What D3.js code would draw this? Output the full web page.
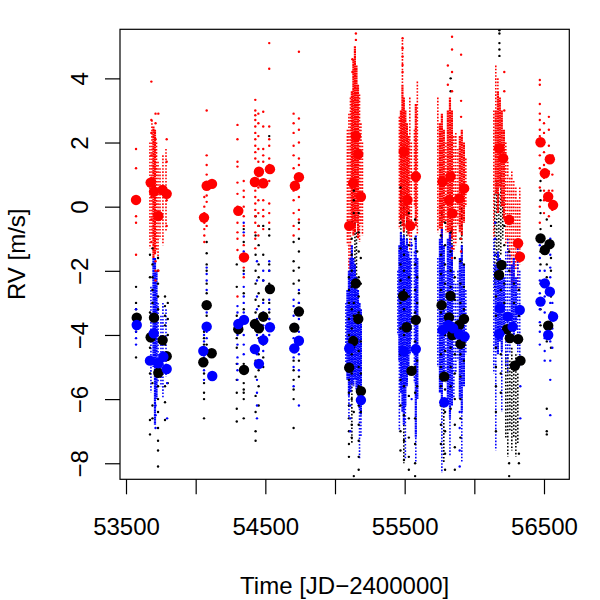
<!DOCTYPE html>
<html><head><meta charset="utf-8">
<script src="https://cdn.jsdelivr.net/npm/d3@7"></script>
<style>body{margin:0;background:#fff}svg{display:block}</style>
</head><body><svg id="c" width="600" height="600"></svg>
<script>
const xTicks = [53500,54000,54500,55000,55500,56000,56500];
const xTickLabels = ["53500","","54500","","55500","","56500"];
const yTicks = [-8,-6,-4,-2,0,2,4];
const yTickLabels = ["\u22128","\u22126","\u22124","\u22122","0","2","4"];
const xTitle = "Time [JD\u22122400000]";
const yTitle = "RV [m/s]";

// large points: [time, rv]
const redBig = [[53572,0.21],[53677,0.75],[53701,0.47],[53732,-0.29],[53763,0.52],[53792,0.40],
[54060,-0.34],[54079,0.65],[54117,0.71],
[54306,-0.13],[54347,-1.58],[54425,0.77],[54454,1.09],[54485,0.73],[54533,1.17],
[54712,0.65],[54741,0.92],
[55102,-0.60],[55131,0.73],[55150,2.20],[55167,1.64],[55186,0.31],
[55494,1.72],[55520,0.21],[55540,-0.60],[55580,0.94],
[55772,0.78],[55819,0.21],[55829,0.94],[55843,-0.21],[55891,0.26],[55927,0.57],
[56178,1.82],[56207,1.51],[56250,-0.41],[56314,-1.14],[56327,-1.56],
[56475,2.01],[56506,1.04],[56530,0.31],[56542,1.48],[56565,0.05]];
const blackBig = [[53577,-3.46],[53677,-4.07],[53701,-3.46],[53732,-5.18],[53763,-4.16],[53792,-4.66],
[54055,-4.85],[54079,-3.07],[54115,-4.57],
[54306,-3.82],[54347,-5.09],[54425,-3.66],[54454,-3.79],[54485,-3.43],[54533,-2.57],
[54708,-3.77],[54741,-3.27],
[55102,-5.02],[55131,-4.19],[55150,-2.39],[55167,-3.50],[55186,-5.75],
[55489,-2.78],[55514,-3.76],[55549,-5.12],[55580,-3.53],
[55765,-3.07],[55784,-5.30],[55818,-3.45],[55829,-2.78],[55842,-4.00],[55891,-3.69],[55901,-4.28],[55926,-3.50],
[56178,-2.13],[56195,-1.82],[56235,-3.82],[56255,-4.10],[56291,-4.96],[56314,-4.13],[56331,-4.80],
[56475,-0.99],[56506,-1.35],[56540,-1.17],[56530,-3.71]];
const blueBig = [[53577,-3.69],[53672,-4.80],[53699,-3.95],[53732,-4.88],[53768,-4.68],[53792,-5.06],
[54055,-4.50],[54079,-3.74],[54119,-5.28],
[54306,-3.66],[54347,-3.53],[54425,-4.44],[54454,-4.90],[54485,-4.16],[54533,-3.76],
[54708,-4.42],[54741,-4.18],
[55102,-4.42],[55186,-6.03],
[55494,-4.50],[55580,-4.44],
[55772,-3.85],[55784,-6.10],[55813,-3.69],[55848,-3.79],[55891,-3.98],[55930,-4.05],
[56178,-3.97],[56183,-3.17],[56240,-3.43],[56275,-3.74],[56326,-3.22],
[56475,-2.96],[56506,-2.39],[56530,-4.00],[56542,-2.65],[56565,-3.43]];

// nightly runs of many measurements at one time: [time, rvTop, rvBottom]
const redDense = [
[53697,2.5,-1.6],[53708,2.4,-1.5],
[55121,3.6,-0.6],[55132,4.6,-0.9],[55143,5.0,-0.8],[55154,4.4,-0.5],[55165,3.8,-1.0],
[55473,3.0,-0.4],[55484,3.8,-0.6],[55494,3.4,-0.8],[55505,3.0,-0.3],[55516,2.6,-0.6],[55527,2.2,-0.9],[55580,3.2,-0.6],
[55753,2.6,-0.7],[55767,2.9,-1.0],[55781,2.4,-0.5],[55810,3.0,-0.8],[55825,3.4,-1.2],[55839,3.0,-1.0],
[55896,2.2,-0.8],[55910,2.4,-0.9],[55925,2.0,-0.5],
[56154,3.0,0.4],[56169,3.6,-0.2],[56183,3.4,0.6],[56197,3.0,0.0],[56212,2.4,-0.4]];
const redLoose = [
[53672,2.0,-1.3],[53686,2.7,-1.0],[53719,2.0,-1.4],[53730,1.4,-1.6],[53744,1.2,-1.0],[53765,1.6,-1.2],[53787,1.8,-0.8],
[55089,2.4,-1.2],[55100,2.9,-2.0],[55111,3.4,-2.2],[55176,3.5,-1.1],[55186,2.6,-0.6],[55197,2.0,-0.9],
[55462,2.8,-0.7],[55537,3.4,-1.4],[55548,2.0,-1.0],[55570,2.4,0.0],[55591,3.9,-0.9],[55484,5.2,3.8],
[55738,3.4,-0.8],[55796,2.0,-0.8],[55853,2.2,-1.4],[55867,2.3,-1.2],[55882,1.8,-0.6],[55939,1.5,0.0],
[56140,3.0,-1.0],[56154,4.4,3.0],[56169,4.0,3.6],[56226,2.0,-1.2],[56240,1.4,-1.8],[56255,0.9,-2.2],
[56269,1.1,-2.6],[56283,0.8,-2.4],[56298,0.6,-2.0],[56312,0.2,-2.6],[56326,0.6,-1.8]];
const blueDense = [
[53697,-1.6,-5.0],[53708,-1.6,-6.8],[53719,-2.0,-6.0],
[55089,-2.6,-5.4],[55100,-2.0,-5.9],[55111,-1.6,-5.8],[55121,-1.2,-5.5],[55132,-1.6,-5.6],[55143,-1.8,-5.4],
[55154,-2.2,-5.7],[55165,-2.6,-5.9],[55176,-3.0,-6.3],[55186,-3.2,-6.5],
[55462,-1.2,-4.8],[55473,-0.8,-5.8],[55484,-1.0,-6.4],[55494,-0.9,-6.8],[55505,-1.2,-6.2],[55516,-1.0,-5.6],
[55527,-1.4,-5.2],[55537,-1.6,-4.6],[55580,-0.9,-7.2],[55591,-1.6,-6.0],
[55753,-1.0,-5.8],[55767,-0.7,-6.2],[55781,-1.2,-5.4],[55810,-1.0,-6.0],[55825,-0.8,-6.6],[55839,-1.2,-6.2],
[55896,-1.6,-6.0],[55910,-1.2,-6.4],[55925,-1.8,-5.6],
[56154,-1.8,-4.4],[56169,-1.4,-4.6],[56183,-1.6,-4.2],[56197,-2.0,-4.5],[56212,-2.2,-4.0],
[56269,-1.8,-3.8],[56283,-1.6,-4.0],[56298,-2.2,-3.6]];
const blueLoose = [
[53679,-2.5,-5.8],[53730,-3.0,-5.5],[53751,-3.4,-5.6],[53765,-3.0,-6.0],[53787,-3.2,-5.3],
[55078,-3.0,-5.0],[55100,-5.9,-6.6],[55176,-6.3,-7.9],[55186,-6.5,-7.2],
[55451,-2.0,-4.0],[55462,-4.8,-7.0],[55505,-6.2,-7.9],[55548,-1.0,-4.2],[55570,-1.4,-5.5],[55580,-7.2,-8.0],
[55738,-1.6,-5.0],[55796,-2.0,-5.5],[55853,-2.0,-6.0],[55867,-2.4,-5.2],[55882,-2.0,-4.8],[55939,-2.6,-4.6],
[55767,-6.2,-8.3],[55825,-6.6,-7.8],[55910,-6.4,-8.0],
[56140,-1.0,-5.2],[56226,-1.4,-5.0],[56240,-1.0,-5.2],[56255,-1.5,-4.6],[56312,-1.2,-4.6],[56326,-2.0,-5.0],
[56154,-4.4,-7.6],[56197,-4.5,-6.4]];
const blackLoose = [
[55143,-0.3,-2.8],[55154,-0.8,-2.4],[55121,-5.4,-7.4],
[55473,0.6,-1.6],[55494,0.2,-1.4],[55516,0.4,-1.0],[55494,-6.8,-8.0],
[55767,0.0,-2.4],[55839,-0.5,-2.2],[55910,0.5,-1.8],[55781,-6.0,-8.0],
[56147,0.4,-2.6],[56161,0.8,-1.8],[56176,0.4,-2.4],[56190,1.0,-1.5],[56204,0.2,-1.0],
[56226,-4.5,-7.2],[56240,-4.6,-7.8],[56255,-4.8,-7.0],[56269,-4.4,-7.6],[56283,-5.0,-7.2],[56298,-4.6,-7.8],[56312,-5.2,-7.4]];

// individual measurements: [time, [rv ...]]
const redSmall = [
[53572,[1.8,1.2,-0.3,-0.5,-1.5]],
[53682,[3.9,2.7,2.3,1.6,0.9,0.3,-0.4,-1.1]],
[53712,[2.9,2.6,2.1,-1.7,-2.0,-2.3]],
[53732,[2.9,-2.0]],
[53792,[2.1,1.4,0.2,-0.6]],
[54062,[0.3,0.0,-0.2,-0.5,-0.7,-0.9,-1.1]],
[54079,[3.0,1.6,1.3,1.0,0.35,0.15,-0.3,-0.6]],
[54300,[2.55,2.1,1.4,1.25,0.75,0.4,0.0,-0.5,-0.8,-1.0,-1.35,-2.8]],
[54345,[0.8,0.5,0.3,0.0,-0.3,-0.6,-0.9,-1.2,-1.9,-2.2]],
[54428,[3.33,3.0,2.85,2.7,2.5,2.3,2.1,1.9,1.7,1.5,1.1,0.5,0.3,0.1,-0.1,-0.3,-0.5,-0.8,-1.0,-1.3]],
[54450,[2.9,2.6,2.2,1.8,1.4,0.95,0.6,0.2,-0.2,-0.6,-0.9]],
[54485,[2.96,2.5,1.8,1.6,1.4,0.2,-0.1,-0.3,-0.7]],
[54528,[5.1,4.3,2.5,2.1,1.9,1.5,1.3,0.8,0.1,-0.2,-0.5]],
[54703,[2.9,2.6,2.3,1.9,1.6,1.2,0.5,0.2,-0.2,-0.6,-0.9]],
[54741,[4.83,2.75,2.4,2.0,1.5,1.3,0.6,0.3,-0.1,-0.4,-0.7]],
[55125,[4.6,4.2]],
[55150,[5.4,5.2]],
[55485,[5.25,4.94,4.68,4.42,4.2]],
[55810,[4.4,3.8]],
[55840,[5.3,4.9,4.2,3.6,-1.3,-1.6]],
[55905,[4.74,3.3,2.8,-1.0,-1.4]],
[56215,[4.2,3.6,3.0]],
[56470,[3.95,3.8,3.2,2.9,2.7,2.4,2.2,1.6,1.2,0.6,0.0,-0.5]],
[56500,[2.6,2.3,2.0,1.7,1.3,0.9,0.5,0.2,-0.2]],
[56535,[2.8,2.4,1.9,1.1,0.5,-0.3]],
[56560,[1.6,1.0,0.5,-0.1]]];
const blackSmall = [
[53572,[-2.5,-3.0,-3.2,-3.9,-4.7]],
[53672,[-1.5,-2.2,-3.3,-4.4,-5.2,-6.65,-7.1]],
[53690,[-1.3,-1.8,-2.2,-2.6,-3.0,-5.5,-6.2,-6.6]],
[53730,[-1.6,-2.0,-2.4,-2.8,-3.2,-5.6,-6.0,-6.4,-6.9,-7.3,-7.6,-8.1]],
[53780,[-2.8,-3.1,-3.4,-3.7,-4.3,-5.0,-5.6,-6.1,-6.65]],
[53800,[-3.0,-3.5,-4.0,-5.0,-5.5]],
[54060,[-3.9,-4.1,-4.3,-5.2,-5.5,-5.8,-6.0,-6.6]],
[54079,[-1.1,-1.45,-1.8,-2.0,-2.4,-2.7,-3.4,-4.3]],
[54295,[-1.8,-2.5,-3.4,-4.1,-4.4,-4.9,-5.4,-5.8,-6.3,-6.7]],
[54345,[-0.7,-1.1,-2.0,-2.7,-3.2,-3.6,-4.9,-5.5,-5.7,-5.8,-6.0,-6.6]],
[54430,[-0.3,-0.9,-1.5,-2.0,-2.4,-2.9,-3.3,-4.4,-4.8,-5.3,-5.9,-6.4,-7.0,-7.3]],
[54452,[-0.6,-1.2,-1.8,-2.2,-2.7,-3.1,-4.1,-4.6,-5.1,-5.6,-6.2]],
[54485,[-0.6,-1.5,-2.3,-2.9,-4.3,-4.7,-5.0]],
[54528,[2.2,-0.7,-0.9,-1.8,-2.0,-2.4,-3.0,-3.3,-3.5]],
[54703,[-1.1,-1.7,-2.0,-2.4,-4.4,-4.8,-5.1,-5.4,-5.7,-6.0,-6.9]],
[54741,[-0.5,-1.0,-1.4,-1.9,-2.3,-2.7,-3.0,-4.8,-5.3]],
[55100,[-2.2,-2.6,-3.0,-3.5,-4.0,-5.0,-5.4,-5.8,-6.2,-6.6,-7.0,-7.4,-7.8]],
[55120,[-0.5,-1.0,-1.5,-2.0,-2.5,-3.2,-3.8,-4.6,-5.2,-6.0,-6.8,-7.2]],
[55135,[0.5,0.2,-0.2,-3.0,-3.4,-4.4,-6.4,-8.4]],
[55170,[-0.2,-0.8,-1.4,-2.2,-2.8,-3.3,-4.5,-5.0,-5.6,-6.2,-6.8,-7.3,-7.8,-8.2]],
[55185,[-1.6,-2.4,-4.2,-5.2,-6.4]],
[55470,[0.6,-0.5,-1.3,-1.8,-2.3,-3.0,-3.8,-4.6,-5.4,-6.2,-7.0,-7.6]],
[55495,[-1.5,-2.0,-2.6,-3.2,-4.0,-5.6,-6.5,-7.3,-7.9]],
[55530,[-0.2,-1.2,-2.2,-2.8,-5.9,-6.6,-7.2,-7.8,-8.2]],
[55575,[-0.4,-1.0,-1.8,-2.6,-3.3,-4.2,-5.0,-5.8,-6.6,-7.4,-8.0,-8.4]],
[55590,[-1.4,-2.2,-3.0,-4.8,-5.6]],
[55760,[0.8,-0.9,-1.5,-2.1,-2.6,-3.3,-4.6,-5.0,-5.6,-6.2,-6.8,-7.4]],
[55790,[-0.5,-1.2,-1.8,-2.4,-4.0,-4.5,-5.7,-6.4,-7.0,-7.7,-8.2]],
[55830,[4.0,3.6,-0.8,-1.4,-2.0,-2.5,-3.6,-4.4,-5.0,-5.6,-6.3]],
[55860,[-1.6,-2.2,-2.9,-4.6,-5.2,-6.0,-6.8,-7.5,-8.2]],
[55900,[-1.0,-1.7,-2.4,-3.0,-4.6,-5.3,-6.0,-6.6,-7.2]],
[55925,[-1.8,-2.5,-3.2,-4.0,-4.8]],
[56180,[5.5,5.4,5.1,4.9,4.7]],
[56155,[-2.2,-2.8,-3.4,-4.4,-5.0,-5.6,-6.4,-7.0]],
[56190,[-2.6,-3.2,-4.6,-5.2,-5.8]],
[56215,[-0.6,-1.2,-1.8,-2.4,-3.0]],
[56250,[-1.4,-2.0,-8.0,-8.4]],
[56285,[-2.4,-3.0]],
[56320,[-1.6,-2.6,-3.4,-4.2,-7.7,-8.0]],
[56475,[0.8,0.5,0.2,-0.2,-0.7,-1.4,-1.8,-2.4,-3.2,-3.7]],
[56520,[0.4,-0.4,-1.8,-2.2,-4.2,-6.3,-7.0,-7.1]],
[56550,[-0.6,-1.6,-2.0,-2.8,-3.3,-4.4]]];
const blueSmall = [
[53572,[-3.2,-3.4,-3.9,-4.1,-4.3]],
[53712,[-6.2,-6.5,-6.9]],
[53795,[-5.5,-6.6]],
[54060,[-3.8,-4.0,-4.2,-4.7,-4.9,-5.1,-5.4]],
[54079,[-1.9,-2.1,-2.3,-2.6,-3.3,-3.9,-4.1]],
[54300,[-3.1,-3.3,-3.6,-4.0,-4.3,-4.7,-4.9,-5.1,-5.4]],
[54345,[-0.5,-0.8,-1.4,-1.7,-2.1,-2.5,-2.8,-3.0,-3.3,-4.0,-4.3,-4.6,-5.0]],
[54440,[-1.7,-2.3,-2.8,-3.2,-3.5,-4.0,-4.6,-5.0,-5.4,-5.8,-6.2,-6.6]],
[54485,[-2.0,-2.3,-3.0,-3.3,-3.7,-4.0,-4.5]],
[54528,[-1.7,-2.0,-2.6,-2.9,-3.2,-3.5,-4.0]],
[54703,[-2.9,-3.1,-3.4,-4.1,-4.7,-5.0,-5.6]],
[54741,[-2.6,-3.0,-3.5,-3.9,-4.6,-5.1,-6.2]],
[55110,[-6.2,-6.6,-7.0]],
[55550,[-0.7,-1.2,-6.0]],
[55895,[-6.4,-6.9,-7.6,-8.1]],
[56150,[-0.5,-1.0,-1.5]],
[56330,[-5.6,-6.6]],
[56470,[-1.2,-1.6,-2.0,-2.3,-2.7,-3.2,-3.6,-3.9,-4.3]],
[56505,[-2.0,-2.4,-2.8,-3.3,-3.7,-4.1,-4.5,-4.8]],
[56545,[-1.0,-1.5,-1.9,-2.2,-2.6,-3.0,-3.6,-4.2,-4.8,-5.4,-6.5]],
[56560,[-3.0,-3.3,-3.8,-4.4]]];

const plot = {l:120, r:569.3, t:29.3, b:479.3};
const font = '"Liberation Sans", Arial, Helvetica, sans-serif';
const x = d3.scaleLinear().domain([53456.9,56681.6]).range([plot.l,plot.r]);
const y = d3.scaleLinear().domain([-8.50,5.53]).range([plot.b,plot.t]);
const svg = d3.select('#c');
svg.append('rect').attr('width',600).attr('height',600).attr('fill','#fff');
svg.append('defs').append('clipPath').attr('id','clip').append('rect')
  .attr('x',plot.l).attr('y',plot.t).attr('width',plot.r-plot.l).attr('height',plot.b-plot.t);
const g = svg.append('g').attr('clip-path','url(#clip)');
const flat = s => s.flatMap(([t,vs]) => vs.map(v => [t,v]));
function runs(data,color,w,dash){
  g.append('g').selectAll('line').data(data).join('line')
   .attr('x1',d=>x(d[0])).attr('x2',d=>x(d[0])).attr('y1',d=>y(d[1])).attr('y2',d=>y(d[2]))
   .attr('stroke',color).attr('stroke-width',w).attr('stroke-dasharray',dash);
}
function small(data,color){
  g.append('g').selectAll('circle').data(flat(data)).join('circle')
   .attr('cx',d=>x(d[0])).attr('cy',d=>y(d[1])).attr('r',1.2).attr('fill',color);
}
function big(data,color){
  g.append('g').selectAll('circle').data(data).join('circle')
   .attr('cx',d=>x(d[0])).attr('cy',d=>y(d[1])).attr('r',5.2).attr('fill',color);
}
runs(blackLoose,'#000','1.6','1.6 1.8');
runs(redLoose,'#ff0000','1.6','1.6 1.6');
runs(blueLoose,'#0000ff','1.6','1.6 1.6');
runs(redDense,'#ff0000','2.2','2 0.4');
runs(blueDense,'#0000ff','2.2','2 0.4');
small(blackSmall,'#000000'); small(redSmall,'#ff0000'); small(blueSmall,'#0000ff');
big(redBig,'#ff0000'); big(blackBig,'#000000'); big(blueBig,'#0000ff');

// box
svg.append('rect').attr('x',plot.l).attr('y',plot.t).attr('width',plot.r-plot.l).attr('height',plot.b-plot.t)
  .attr('fill','none').attr('stroke','#000').attr('stroke-width',1.2);

// x axis
const xa = svg.append('g').attr('transform',`translate(0,${plot.b})`)
  .call(d3.axisBottom(x).tickValues(xTicks).tickSize(15).tickSizeOuter(0).tickFormat((d,i)=>xTickLabels[i]));
xa.select('.domain').remove();
xa.selectAll('line').attr('stroke','#000').attr('stroke-width',1.2);
xa.selectAll('text').attr('y',55.7).attr('dy',null).attr('font-family',font).attr('font-size',24).attr('fill','#000');
// y axis
const ya = svg.append('g').attr('transform',`translate(${plot.l},0)`)
  .call(d3.axisLeft(y).tickValues(yTicks).tickSize(15).tickSizeOuter(0).tickFormat((d,i)=>yTickLabels[i]));
ya.select('.domain').remove();
ya.selectAll('line').attr('stroke','#000').attr('stroke-width',1.2);
ya.selectAll('text').attr('x',null).attr('dy',null).attr('text-anchor','middle')
  .attr('transform','translate(-32,0) rotate(-90)')
  .attr('font-family',font).attr('font-size',24).attr('fill','#000');

svg.append('text').attr('x',(plot.l+plot.r)/2).attr('y',594).attr('text-anchor','middle')
  .attr('font-family',font).attr('font-size',24).text(xTitle);
svg.append('text').attr('transform',`translate(25,${(plot.t+plot.b)/2}) rotate(-90)`).attr('text-anchor','middle')
  .attr('font-family',font).attr('font-size',24).text(yTitle);
</script></body></html>
